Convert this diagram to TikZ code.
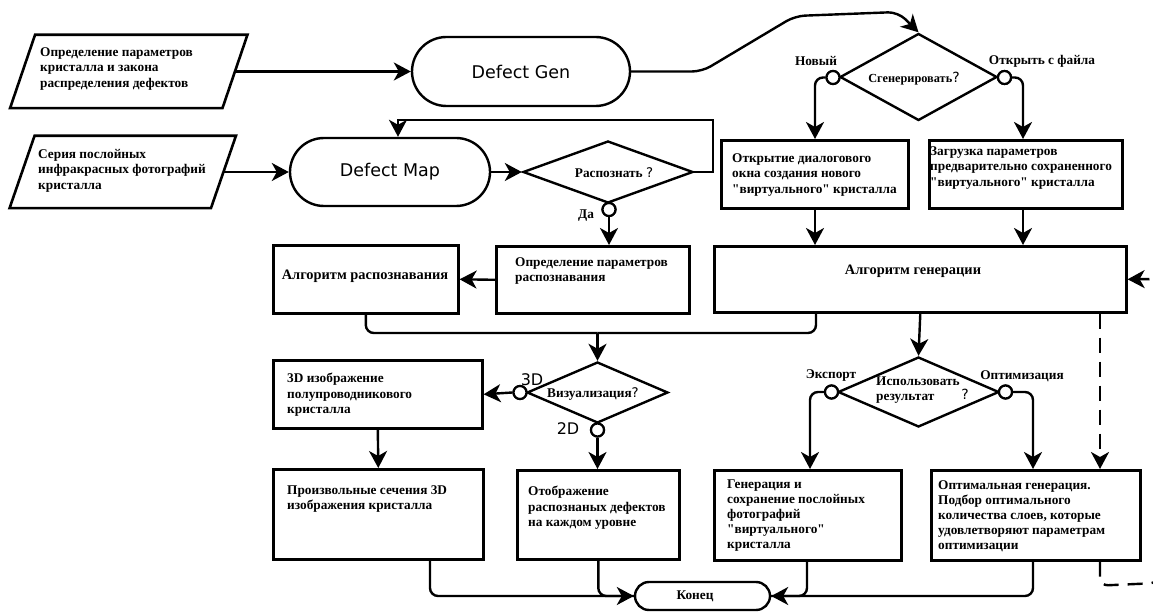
\documentclass[tikz,border=0pt]{standalone}
\usepackage{fontspec}
\setmainfont{Liberation Serif}[Ligatures=TeXOff]
\newfontfamily\djs{DejaVu Sans}
\newcommand{\qm}{{\djs\mdseries ?}}
\usetikzlibrary{arrows.meta,shapes.geometric,shapes.misc}
\begin{document}
\begin{tikzpicture}[x=1pt,y=-1pt,
 every node/.style={inner sep=0},
 bx/.style={draw, line width=2.6pt, anchor=north west},
 term/.style={draw, rounded rectangle, line width=2.4pt},
 dia/.style={draw, diamond, line width=2.4pt},
 circ/.style={draw, circle, line width=2.2pt, fill=white, minimum size=13pt},
 ln/.style={line width=2.4pt, rounded corners=8pt},
 arr/.style={ln, -{Stealth[length=17pt,width=18pt,inset=5pt]}},
 tx/.style={font=\bfseries\fontsize{13.3}{15.5}\selectfont, align=left, anchor=north west},
 lb/.style={font=\bfseries\fontsize{13.3}{15.5}\selectfont},
 big/.style={font=\bfseries\fontsize{14.4}{16}\selectfont},
 sf/.style={font=\djs\fontsize{17.5}{20}\selectfont},
 dl/.style={font=\djs\fontsize{16}{18}\selectfont},
 dsh/.style={dash pattern=on 15pt off 9pt},
]
\clip (0,0) rectangle (1153,612);
\fill[white] (0,0) rectangle (1153,612);

% parallelograms
\node[minimum width=212, minimum height=73] (p1) at (128.75,71.5) {};
\draw[line width=2.6pt] ([xshift=12.5]p1.north west) -- ([xshift=12.5]p1.north east) -- ([xshift=-12.5]p1.south east) -- ([xshift=-12.5]p1.south west) -- cycle;
\node[tx] (p1t) at (40,47) {Определение параметров\\кристалла и закона\\распределения дефектов};

\node[minimum width=201, minimum height=72] (p2) at (122.75,172) {};
\draw[line width=2.6pt] ([xshift=12.5]p2.north west) -- ([xshift=12.5]p2.north east) -- ([xshift=-12.5]p2.south east) -- ([xshift=-12.5]p2.south west) -- cycle;
\node[tx] (p2t) at (38,149) {Серия послойных\\инфракрасных фотографий\\кристалла};

% terminals
\node[term, sf, minimum width=218, minimum height=69] (dg) at (521,71.5) {Defect Gen};
\node[term, sf, minimum width=200, minimum height=68] (dm) at (390,172) {Defect Map};
\node[term, minimum width=135, minimum height=28] (kn) at (702.5,596) {};
\node[lb] (knt) at (695,596) {Конец};

% diamonds
\node[dia, minimum width=170, minimum height=62] (dr) at (608,172) {};
\node[lb] (drt) at (614,173) {Распознать \qm};
\node[dia, minimum width=157, minimum height=87] (sg) at (918.5,77) {};
\node[lb, font=\bfseries\fontsize{12.3}{14}\selectfont] (sgt) at (914,79) {Сгенерировать{\fontsize{14}{16}\selectfont\qm}};
\node[dia, minimum width=141, minimum height=61] (vz) at (597.5,392.5) {};
\node[lb] (vzt) at (593,394) {Визуализация\qm};
\node[dia, minimum width=161, minimum height=70] (iu) at (918.5,392) {};
\node[tx, font=\bfseries\fontsize{13.3}{15}\selectfont] (iut) at (876,377) {Использовать\\результат};
\node[dl, font=\djs\fontsize{14}{16}\selectfont] (iuq) at (965,394) {?};

% boxes
\node[bx, minimum width=193, minimum height=67] (b6) at (495,245) {};
\node[tx] (b6t) at (515,257) {Определение параметров\\распознавания};
\node[bx, minimum width=185, minimum height=68] (b7) at (272,244) {};
\node[big] (b7t) at (365,276) {Алгоритм распознавания};
\node[bx, minimum width=412, minimum height=66] (b8) at (713,245) {};
\node[big] (b8t) at (913,271) {Алгоритм генерации};
\node[bx, minimum width=187, minimum height=68] (b10) at (720,139) {};
\node[tx] (b10t) at (732,153) {Открытие диалогового\\окна создания нового\\"виртуального" кристалла};
\node[bx, minimum width=193, minimum height=68] (b11) at (928,139) {};
\node[tx] (b11t) at (930,146) {Загрузка параметров\\предварительно сохраненного\\"виртуального" кристалла};
\node[bx, minimum width=209, minimum height=68] (b13) at (272,359) {};
\node[tx] (b13t) at (287,373) {3D изображение\\полупроводникового\\кристалла};
\node[bx, minimum width=210, minimum height=90] (b14) at (272,468) {};
\node[tx] (b14t) at (287,485) {Произвольные сечения 3D\\изображения кристалла};
\node[bx, minimum width=162, minimum height=89] (b15) at (516,469) {};
\node[tx] (b15t) at (528,486) {Отображение\\распознаных дефектов\\на каждом уровне};
\node[bx, minimum width=187, minimum height=90] (b18) at (713,469) {};
\node[tx, font=\bfseries\fontsize{13.3}{15}\selectfont] (b18t) at (727,480) {Генерация и\\сохранение послойных\\фотографий\\"виртуального"\\кристалла};
\node[bx, minimum width=209, minimum height=90] (b19) at (930,469) {};
\node[tx, font=\bfseries\fontsize{13.3}{15}\selectfont] (b19t) at (938,480) {Оптимальная генерация.\\Подбор оптимального\\количества слоев, которые\\удовлетворяют параметрам\\оптимизации};

% helper coordinates
\coordinate (m1) at (597.5,333);
\coordinate (g1) at ([xshift=103]b8.south west);
\coordinate (x10) at ([xshift=95]b10.north west);
\coordinate (x10b) at ([xshift=95]b10.south west);
\coordinate (x11) at ([xshift=95]b11.north west);
\coordinate (x11b) at ([xshift=95]b11.south west);
\coordinate (x18) at ([xshift=97]b18.north west);
\coordinate (x18b) at ([xshift=94]b18.south west);
\coordinate (x19) at ([xshift=103]b19.north west);
\coordinate (x19b) at ([xshift=103]b19.south west);
\coordinate (x14b) at ([xshift=158]b14.south west);
\coordinate (d1) at ([xshift=387]b8.south west);
\coordinate (d2) at ([xshift=170]b19.south west);
\coordinate (lp) at ([xshift=8]dm.north);

% connectors
\draw[arr] (p1.east) -- (dg.west);
\draw[arr] (p2.east) -- (dm.west);
\draw[arr, rounded corners=10pt] (dg.east) -- (702,71.5) -- (795,16) -- (898,12) -- (sg.north);
\draw[arr] (dm.east) -- (dr.west);
\draw[arr, rounded corners=0pt] (dr.east) -- ++(19,0) -- ++(0,-52) -| (lp);

\node[circ] (cda) at (609,209.5) {};
\node[lb] (cdal) at (586,216) {Да};
\draw[arr] (cda.south) -- (cda.south |- b6.north);
\draw[arr] (b6.west) -- (b7.east);

\node[circ] (cnew) at (833,77.5) {};
\node[circ] (cfile) at (1004.5,77.5) {};
\node[lb] (cnewl) at (816,61) {Новый};
\node[lb] (cfilel) at (1042,61) {Открыть с файла};
\draw[arr] (cnew.west) -| (x10);
\draw[arr] (cfile.east) -| (x11);
\draw[arr] (x10b) -- (x10b |- b8.north);
\draw[arr] (x11b) -- (x11b |- b8.north);

\draw[ln] (b7.south) |- (m1);
\draw[ln] (g1) |- (m1);
\draw[arr] (m1) -- (vz.north);
\draw[arr] (b8.south) -- (iu.north);

\node[circ] (c3d) at (520,392.5) {};
\node[dl] (c3dl) at (532,380) {3D};
\node[circ] (c2d) at (597.5,430) {};
\node[dl] (c2dl) at (568,429) {2D};
\draw[arr] (c3d.west) -- (b13.east);
\draw[arr] (c2d.south) -- (c2d.south |- b15.north);
\draw[arr] (b13.south) -- (b14.north);

\node[circ] (cex) at (831.5,392) {};
\node[circ] (cop) at (1005.5,392) {};
\node[lb] (cexl) at (831,376) {Экспорт};
\node[lb] (copl) at (1022,376) {Оптимизация};
\draw[arr] (cex.west) -| (x18);
\draw[arr] (cop.east) -| (x19);

\draw[ln] (b15.south) |- (kn.west);
\draw[arr] (x14b) |- (kn.west);
\draw[ln] (x19b) |- (kn.east);
\draw[arr] (x18b) |- (kn.east);

\draw[arr, dsh] (d1) -- (d1 |- b19.north);
\draw[arr, dsh] (d2) -- ++(0,24) -- (1158,583) -- (1158,279) -- (b8.east);

% redraw circles on top
\node[circ] at (cda) {};
\node[circ] at (cnew) {};
\node[circ] at (cfile) {};
\node[circ] at (c3d) {};
\node[circ] at (c2d) {};
\node[circ] at (cex) {};
\node[circ] at (cop) {};
\end{tikzpicture}
\end{document}
